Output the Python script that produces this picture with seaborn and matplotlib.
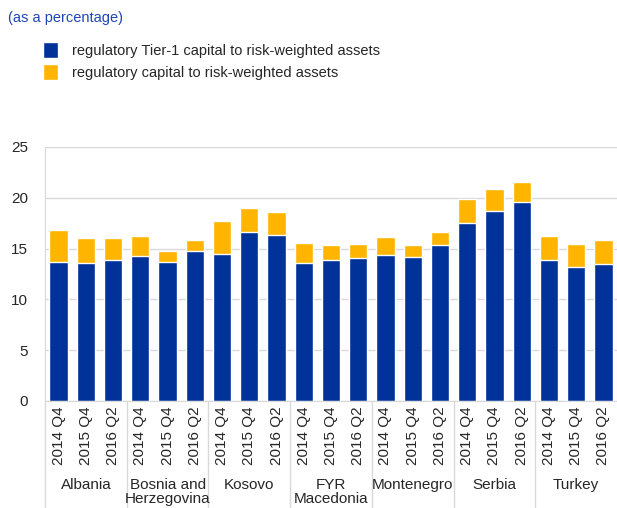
import numpy as np
import pandas as pd
import seaborn as sns
import matplotlib.pyplot as plt

# données
countries = ["Albania", "Bosnia and\nHerzegovina", "Kosovo", "FYR\nMacedonia",
             "Montenegro", "Serbia", "Turkey"]
periods = ["2014 Q4", "2015 Q4", "2016 Q2"]
tier1 = [13.7, 13.6, 13.9,
         14.3, 13.7, 14.8,
         14.5, 16.6, 16.3,
         13.6, 13.85, 14.05,
         14.4, 14.2, 15.4,
         17.5, 18.7, 19.6,
         13.85, 13.2, 13.5]
total = [16.8, 16.0, 16.0,
         16.2, 14.8, 15.8,
         17.7, 18.95, 18.6,
         15.6, 15.4, 15.5,
         16.1, 15.4, 16.6,
         19.9, 20.85, 21.6,
         16.2, 15.5, 15.8]

df = pd.DataFrame({
    "pos": np.arange(len(tier1)),
    "period": periods * len(countries),
    "tier1": tier1,
    "total": total,
})

sns.set_style("white")
plt.rcParams["font.family"] = ["Liberation Sans", "DejaVu Sans"]

blue = "#003299"
yellow = "#FFB400"
grid = "#d9d9d9"

fig = plt.figure(figsize=(6.17, 5.08), dpi=100)
ax = fig.add_axes([45 / 617, 107 / 508, 572 / 617, 254 / 508])

sns.barplot(data=df, x="pos", y="total", color=yellow, width=0.67,
            saturation=1, ax=ax, label="regulatory capital to risk-weighted assets")
sns.barplot(data=df, x="pos", y="tier1", color=blue, width=0.67,
            saturation=1, ax=ax, label="regulatory Tier-1 capital to risk-weighted assets")
h, l = ax.get_legend_handles_labels()
if ax.get_legend() is not None:
    ax.get_legend().remove()

ax.set_xlim(-0.5, len(tier1) - 0.5)
ax.set_ylim(0, 25)
ax.set_yticks(range(0, 26, 5))
ax.yaxis.grid(True, color=grid, linewidth=1)
ax.set_axisbelow(True)
ax.set_xlabel("")
ax.set_ylabel("")
ax.set_xticks(df["pos"])
ax.set_xticklabels(df["period"], rotation=90, fontsize=11)
ax.tick_params(axis="y", labelsize=11, length=0, pad=12)
ax.tick_params(axis="x", length=0, pad=4)
for s in ["top", "right"]:
    ax.spines[s].set_visible(False)
for s in ["left", "bottom"]:
    ax.spines[s].set_color(grid)

# séparateurs de pays et noms
for k in range(len(countries)):
    x0 = k * 3 - 0.5
    ax.plot([x0, x0], [0, -10.6], color=grid, linewidth=1, clip_on=False)
    ax.text(k * 3 + 1, -7.6, countries[k], ha="center", va="top",
            fontsize=11, linespacing=1.0)

# légende : Tier-1 en premier
fig.legend(h[::-1], l[::-1], loc="upper left", bbox_to_anchor=(30 / 617, 1 - 29 / 508),
           frameon=False, fontsize=10.5, handlelength=1.0, handleheight=1.25,
           handletextpad=1.0, labelspacing=0.45)

fig.text(8 / 617, 1 - 18 / 508, "(as a percentage)", color="#1f45b5",
         fontsize=10.5, va="center", ha="left")

fig.savefig("out.png", dpi=100)
